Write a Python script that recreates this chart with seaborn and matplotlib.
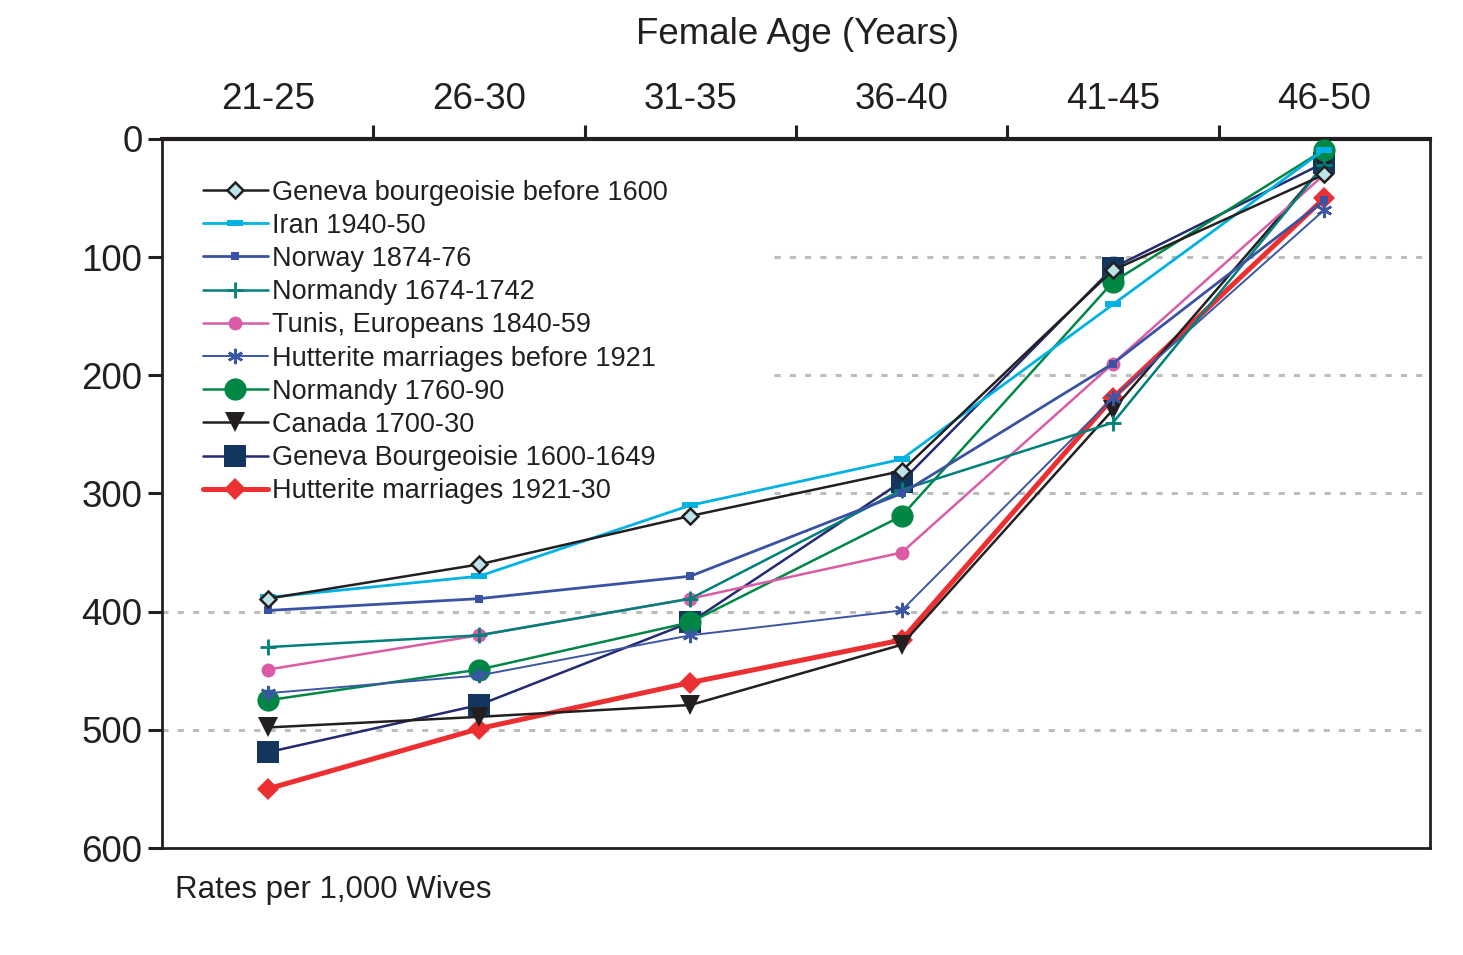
import numpy as np
import pandas as pd
import matplotlib
matplotlib.use("Agg")
import matplotlib.pyplot as plt
import matplotlib.path as mpath
from matplotlib.ticker import FixedLocator
import seaborn as sns

sns.set_style("white")
plt.rcParams['font.family'] = ['Liberation Sans', 'DejaVu Sans']

# Data
age_groups = ["21-25", "26-30", "31-35", "36-40", "41-45", "46-50"]

geneva_pre1600 = [389, 360, 319, 281, 111, 30]
iran_1940 = [388, 370, 310, 271, 140, 9]
norway_1874 = [399, 389, 370, 300, 190, 52]
normandy_1674 = [430, 420, 389, 297, 240, 22]
tunis_1840 = [449, 420, 389, 350, 190, 30]
hutterite_pre1921 = [469, 454, 420, 399, 219, 60]
normandy_1760 = [475, 449, 409, 319, 121, 9]
canada_1700 = [498, 489, 479, 428, 229, 22]
geneva_1600_1649 = [519, 479, 409, 290, 109, 20]
hutterite_1921 = [550, 499, 460, 424, 219, 50]

series_names = [
    "Geneva bourgeoisie before 1600",
    "Iran 1940-50",
    "Norway 1874-76",
    "Normandy 1674-1742",
    "Tunis, Europeans 1840-59",
    "Hutterite marriages before 1921",
    "Normandy 1760-90",
    "Canada 1700-30",
    "Geneva Bourgeoisie 1600-1649",
    "Hutterite marriages 1921-30",
]
series_values = [geneva_pre1600, iran_1940, norway_1874, normandy_1674, tunis_1840,
                 hutterite_pre1921, normandy_1760, canada_1700, geneva_1600_1649,
                 hutterite_1921]

rows = []
for name, vals in zip(series_names, series_values):
    for i, v in enumerate(vals):
        rows.append({"series": name, "pos": i, "rate": v})
df = pd.DataFrame(rows)

# wide flat rectangle marker for Iran
rect = mpath.Path([[-1, -0.4], [1, -0.4], [1, 0.4], [-1, 0.4], [-1, -0.4]],
                  [1, 2, 2, 2, 79])

styles = {
    "Geneva bourgeoisie before 1600": dict(color="#231f20", lw=1.8, marker="D", ms=8,
                                           mfc="#bde3ea", mec="#231f20", mew=1.8),
    "Iran 1940-50": dict(color="#00b2e3", lw=2.0, marker=rect, ms=12,
                         mfc="#00b2e3", mec="#00b2e3", mew=0),
    "Norway 1874-76": dict(color="#3a52a3", lw=2.0, marker="s", ms=6,
                           mfc="#3a52a3", mec="#3a52a3", mew=0),
    "Normandy 1674-1742": dict(color="#00807b", lw=1.8, marker="+", ms=12,
                               mfc="#00807b", mec="#00807b", mew=2),
    "Tunis, Europeans 1840-59": dict(color="#d95ca5", lw=1.8, marker="o", ms=10,
                                     mfc="#d95ca5", mec="#d95ca5", mew=0),
    "Hutterite marriages before 1921": dict(color="#3c56a6", lw=1.4, marker=(6, 2, 0), ms=11,
                                            mfc="#3c56a6", mec="#3c56a6", mew=1.8),
    "Normandy 1760-90": dict(color="#008746", lw=1.8, marker="o", ms=16,
                             mfc="#008746", mec="#008746", mew=0),
    "Canada 1700-30": dict(color="#231f20", lw=1.8, marker="v", ms=15,
                           mfc="#231f20", mec="#231f20", mew=0),
    "Geneva Bourgeoisie 1600-1649": dict(color="#232a72", lw=1.8, marker="s", ms=16,
                                         mfc="#13365f", mec="#13365f", mew=0),
    "Hutterite marriages 1921-30": dict(color="#ec3032", lw=3.6, marker="D", ms=11,
                                        mfc="#ec3032", mec="#ec3032", mew=0),
}

fig = plt.figure(figsize=(14.63, 9.55), dpi=100)
ax = fig.add_axes([162 / 1463, 1 - 848 / 955, (1430 - 162) / 1463, (848 - 139) / 955])

# draw in reverse legend order so the stacking matches
for z, name in enumerate(reversed(series_names)):
    st = styles[name]
    sub = df[df["series"] == name]
    sns.lineplot(data=sub, x="pos", y="rate", ax=ax, color=st["color"], lw=st["lw"],
                 marker=st["marker"], markersize=st["ms"], markerfacecolor=st["mfc"],
                 markeredgecolor=st["mec"], markeredgewidth=st["mew"],
                 label=name, zorder=3 + z, estimator=None, sort=False)

ax.set_xlim(-0.5, 5.5)
ax.set_ylim(600, 0)
ax.set_xlabel("")
ax.set_ylabel("")

# x labels on top, ticks between groups
ax.xaxis.tick_top()
ax.set_xticks(range(len(age_groups)))
ax.set_xticklabels(age_groups, fontsize=26.5, color="#231f20")
ax.xaxis.set_minor_locator(FixedLocator(np.arange(0.5, 5.5, 1.0)))
ax.tick_params(axis="x", which="major", length=0, pad=16)
ax.tick_params(axis="x", which="minor", top=True, bottom=False, direction="out",
               length=10, width=2.2, color="#231f20")

ax.set_yticks(np.arange(0, 601, 100))
ax.tick_params(axis="y", which="major", left=True, direction="out", length=10,
               width=2.2, color="#231f20", labelsize=26.5, labelcolor="#231f20", pad=4)

for sp in ax.spines.values():
    sp.set_color("#231f20")
    sp.set_linewidth(2)
ax.spines["top"].set_linewidth(3)

# dotted grid; upper three lines stop where the legend panel ends
for yv in [100, 200, 300]:
    ax.axhline(yv, xmin=0.483, color="#bdbdbd", lw=2.2, ls=(0, (2, 3)), zorder=1)
for yv in [400, 500]:
    ax.axhline(yv, color="#bdbdbd", lw=2.2, ls=(0, (2, 3)), zorder=1)

# legend in original order
handles, labels = ax.get_legend_handles_labels()
lookup = dict(zip(labels, handles))
leg = ax.legend([lookup[n] for n in series_names], series_names, loc="upper left",
                bbox_to_anchor=(0.0, 1.0), fontsize=19.5, frameon=False,
                handlelength=2.4, handletextpad=0.15, labelspacing=0.265,
                borderpad=0.9, borderaxespad=0.6)
for t in leg.get_texts():
    t.set_color("#231f20")
leg.set_zorder(2)

fig.text(797 / 1463, 1 - 35 / 955, "Female Age (Years)", ha="center", va="center",
         fontsize=26.5, color="#231f20")
fig.text(175 / 1463, 1 - 890 / 955, "Rates per 1,000 Wives", ha="left", va="center",
         fontsize=22.5, color="#231f20")

fig.savefig("out.png", dpi=100)
